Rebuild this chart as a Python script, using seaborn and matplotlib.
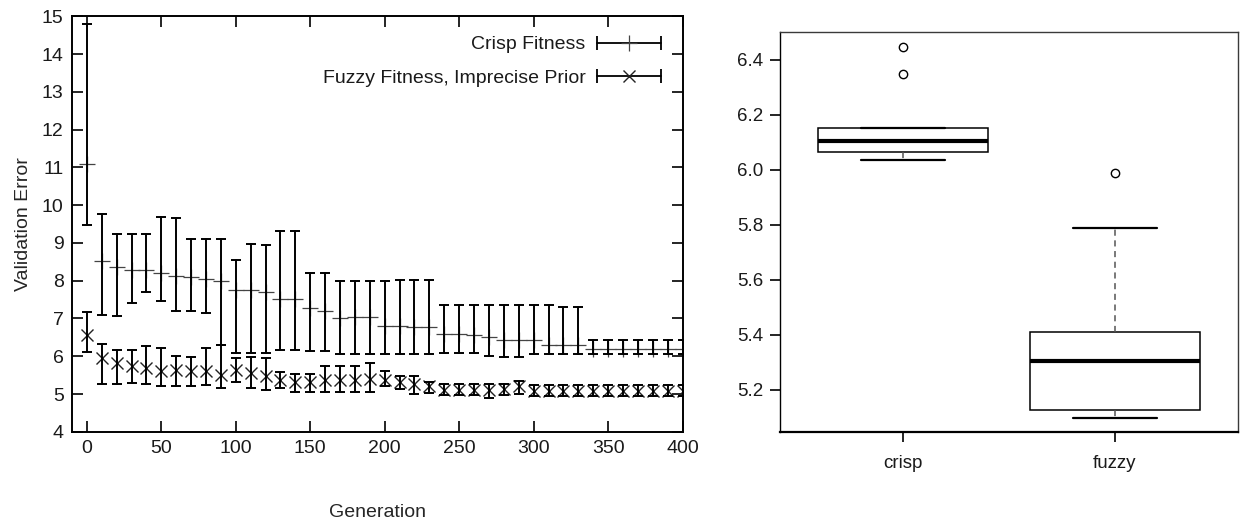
import numpy as np
import pandas as pd
import seaborn as sns
import matplotlib.pyplot as plt
from matplotlib.lines import Line2D
from matplotlib.legend_handler import HandlerLine2D

# Generation axis (every 10 generations)
generations = [0, 10, 20, 30, 40, 50, 60, 70, 80, 90, 100, 110, 120, 130, 140,
               150, 160, 170, 180, 190, 200, 210, 220, 230, 240, 250, 260, 270,
               280, 290, 300, 310, 320, 330, 340, 350, 360, 370, 380, 390, 400]

# Crisp fitness: mean and error bar ends
crisp_mean = [11.08, 8.53, 8.37, 8.27, 8.28, 8.21, 8.13, 8.11, 8.04, 7.98, 7.76,
              7.76, 7.71, 7.51, 7.51, 7.27, 7.21, 7.00, 7.03, 7.03, 6.80, 6.80,
              6.78, 6.78, 6.58, 6.58, 6.55, 6.50, 6.42, 6.42, 6.42, 6.30, 6.30,
              6.30, 6.18, 6.18, 6.18, 6.18, 6.18, 6.18, 6.18]
crisp_low = [9.47, 7.10, 7.07, 7.42, 7.71, 7.45, 7.21, 7.21, 7.14, 6.30, 6.08,
             6.08, 6.08, 6.17, 6.17, 6.13, 6.13, 6.06, 6.06, 6.06, 6.06, 6.06,
             6.06, 6.06, 6.08, 6.08, 6.08, 6.01, 5.98, 5.98, 6.05, 6.05, 6.05,
             6.05, 6.05, 6.05, 6.05, 6.05, 6.05, 6.05, 6.05]
crisp_high = [14.79, 9.76, 9.23, 9.23, 9.23, 9.68, 9.66, 9.10, 9.10, 9.10, 8.55,
              8.97, 8.95, 9.32, 9.32, 8.19, 8.19, 7.98, 8.00, 8.00, 8.00, 8.02,
              8.02, 8.02, 7.36, 7.36, 7.36, 7.36, 7.36, 7.36, 7.36, 7.36, 7.29,
              7.29, 6.42, 6.42, 6.42, 6.42, 6.42, 6.42, 6.42]

# Fuzzy fitness, imprecise prior: mean and error bar ends
fuzzy_mean = [6.57, 5.95, 5.82, 5.75, 5.70, 5.60, 5.64, 5.60, 5.61, 5.51, 5.64,
              5.55, 5.48, 5.38, 5.33, 5.33, 5.38, 5.38, 5.38, 5.40, 5.38, 5.33,
              5.27, 5.20, 5.11, 5.11, 5.11, 5.11, 5.14, 5.20, 5.07, 5.07, 5.07,
              5.07, 5.07, 5.07, 5.07, 5.07, 5.07, 5.07, 5.07]
fuzzy_low = [6.12, 5.27, 5.27, 5.28, 5.27, 5.22, 5.22, 5.22, 5.24, 5.15, 5.33,
             5.15, 5.11, 5.17, 5.05, 5.05, 5.05, 5.05, 5.05, 5.05, 5.20, 5.13,
             5.00, 5.02, 4.98, 4.98, 4.98, 4.89, 4.98, 4.99, 4.95, 4.95, 4.95,
             4.95, 4.95, 4.95, 4.95, 4.95, 4.95, 4.95, 4.95]
fuzzy_high = [7.18, 6.32, 6.17, 6.17, 6.28, 6.21, 6.01, 5.97, 6.23, 6.30, 5.95,
              5.97, 5.95, 5.57, 5.52, 5.52, 5.75, 5.75, 5.73, 5.82, 5.61, 5.48,
              5.48, 5.33, 5.26, 5.26, 5.26, 5.26, 5.27, 5.35, 5.25, 5.25, 5.25,
              5.25, 5.25, 5.25, 5.25, 5.25, 5.25, 5.25, 5.25]

# Final validation error per run (right panel)
crisp_runs = [6.036, 6.05, 6.06, 6.07, 6.09, 6.105, 6.12, 6.152, 6.154, 6.349, 6.446]
fuzzy_runs = [5.098, 5.11, 5.12, 5.134, 5.25, 5.304, 5.36, 5.40, 5.422, 5.789, 5.99]

series_labels = ['Crisp Fitness', 'Fuzzy Fitness, Imprecise Prior']


def long_frame(mean, low, high):
    # three rows per generation: median -> mean, min/max -> bar ends
    return pd.DataFrame({
        'gen': generations * 3,
        'value': list(low) + list(mean) + list(high),
    })


crisp_df = long_frame(crisp_mean, crisp_low, crisp_high)
fuzzy_df = long_frame(fuzzy_mean, fuzzy_low, fuzzy_high)
box_df = pd.DataFrame({
    'method': ['crisp'] * len(crisp_runs) + ['fuzzy'] * len(fuzzy_runs),
    'error': crisp_runs + fuzzy_runs,
})

sns.set_theme(style='ticks')
plt.rcParams['font.family'] = ['Liberation Sans', 'DejaVu Sans']
plt.rcParams['axes.edgecolor'] = 'black'
plt.rcParams['text.color'] = '#1a1a1a'
plt.rcParams['xtick.color'] = 'black'
plt.rcParams['ytick.color'] = 'black'
plt.rcParams['xtick.labelcolor'] = '#1a1a1a'
plt.rcParams['ytick.labelcolor'] = '#1a1a1a'

fig = plt.figure(figsize=(12.41, 5.24), dpi=100)
ax1 = fig.add_axes([0.058, 0.176, 0.492, 0.793])
ax2 = fig.add_axes([0.6285, 0.176, 0.369, 0.763])

minmax = lambda v: (v.min(), v.max())
err_kws = {'capsize': 3.8, 'elinewidth': 1.4, 'capthick': 1.4}

sns.lineplot(data=crisp_df, x='gen', y='value', estimator='median',
             errorbar=minmax, err_style='bars', err_kws=err_kws,
             color='black', linestyle='', marker='+', markersize=11,
             markeredgewidth=0.9, markeredgecolor='#444444', ax=ax1)
sns.lineplot(data=fuzzy_df, x='gen', y='value', estimator='median',
             errorbar=minmax, err_style='bars', err_kws=err_kws,
             color='black', linestyle='', marker='x', markersize=8,
             markeredgewidth=1.0, markeredgecolor='#222222', ax=ax1)

ax1.set_xlim(-10, 400)
ax1.set_ylim(4, 15)
ax1.set_xticks([0, 50, 100, 150, 200, 250, 300, 350, 400])
ax1.set_yticks(list(range(4, 16)))
ax1.tick_params(direction='in', length=8, width=1.2, top=True, right=True,
                labelsize=14, pad=6)
for s in ax1.spines.values():
    s.set_visible(True)
    s.set_linewidth(1.4)
ax1.set_xlabel('Generation', fontsize=14, labelpad=34)
ax1.set_ylabel('Validation Error', fontsize=14, labelpad=7)

# gnuplot-style key: text right-aligned, sample with end caps on the right
cap_a = Line2D([], [], color='black', lw=1.3, marker='|', markersize=10, mew=1.3)
cap_b = Line2D([], [], color='black', lw=1.3, marker='|', markersize=10, mew=1.3)
plus = Line2D([], [], color='#444444', ls='none', marker='+', markersize=11, mew=0.9)
cross = Line2D([], [], color='#222222', ls='none', marker='x', markersize=8, mew=1.0)
leg = ax1.legend([(cap_a, plus), (cap_b, cross)], series_labels,
                 handler_map={cap_a: HandlerLine2D(numpoints=2),
                              cap_b: HandlerLine2D(numpoints=2)},
                 loc='upper right', bbox_to_anchor=(0.975, 0.953),
                 markerfirst=False, frameon=False, fontsize=14,
                 handlelength=3.9, handletextpad=0.3, labelspacing=0.8,
                 borderpad=0, borderaxespad=0)
for col in leg._legend_handle_box.get_children():
    col.align = 'right'

sns.boxplot(data=box_df, x='method', y='error', width=0.8, color='white',
            linecolor='black', linewidth=1.1, whis=1.5,
            medianprops={'linewidth': 3, 'color': 'black'},
            whiskerprops={'linestyle': (0, (4, 3)), 'color': '#555555',
                          'linewidth': 1.1},
            capprops={'color': 'black', 'linewidth': 1.6},
            flierprops={'marker': 'o', 'markerfacecolor': 'none',
                        'markeredgecolor': 'black', 'markersize': 6,
                        'markeredgewidth': 1.0},
            ax=ax2)
ax2.set_xlim(-0.58, 1.58)
ax2.set_ylim(5.047, 6.502)
ax2.set_yticks([5.2, 5.4, 5.6, 5.8, 6.0, 6.2, 6.4])
ax2.set_yticklabels(['5.2', '5.4', '5.6', '5.8', '6.0', '6.2', '6.4'])
ax2.set_xlabel('')
ax2.set_ylabel('')
ax2.tick_params(direction='out', length=7, width=1.2, labelsize=13.5)
ax2.tick_params(axis='x', pad=10)
ax2.tick_params(axis='y', pad=5)
for name, s in ax2.spines.items():
    s.set_visible(True)
    s.set_linewidth(1.0)
    s.set_color('#3a3a3a')
ax2.spines['bottom'].set_linewidth(1.6)
ax2.spines['bottom'].set_color('black')
ax2.spines['left'].set_color('black')

fig.savefig('out.png', dpi=100)
